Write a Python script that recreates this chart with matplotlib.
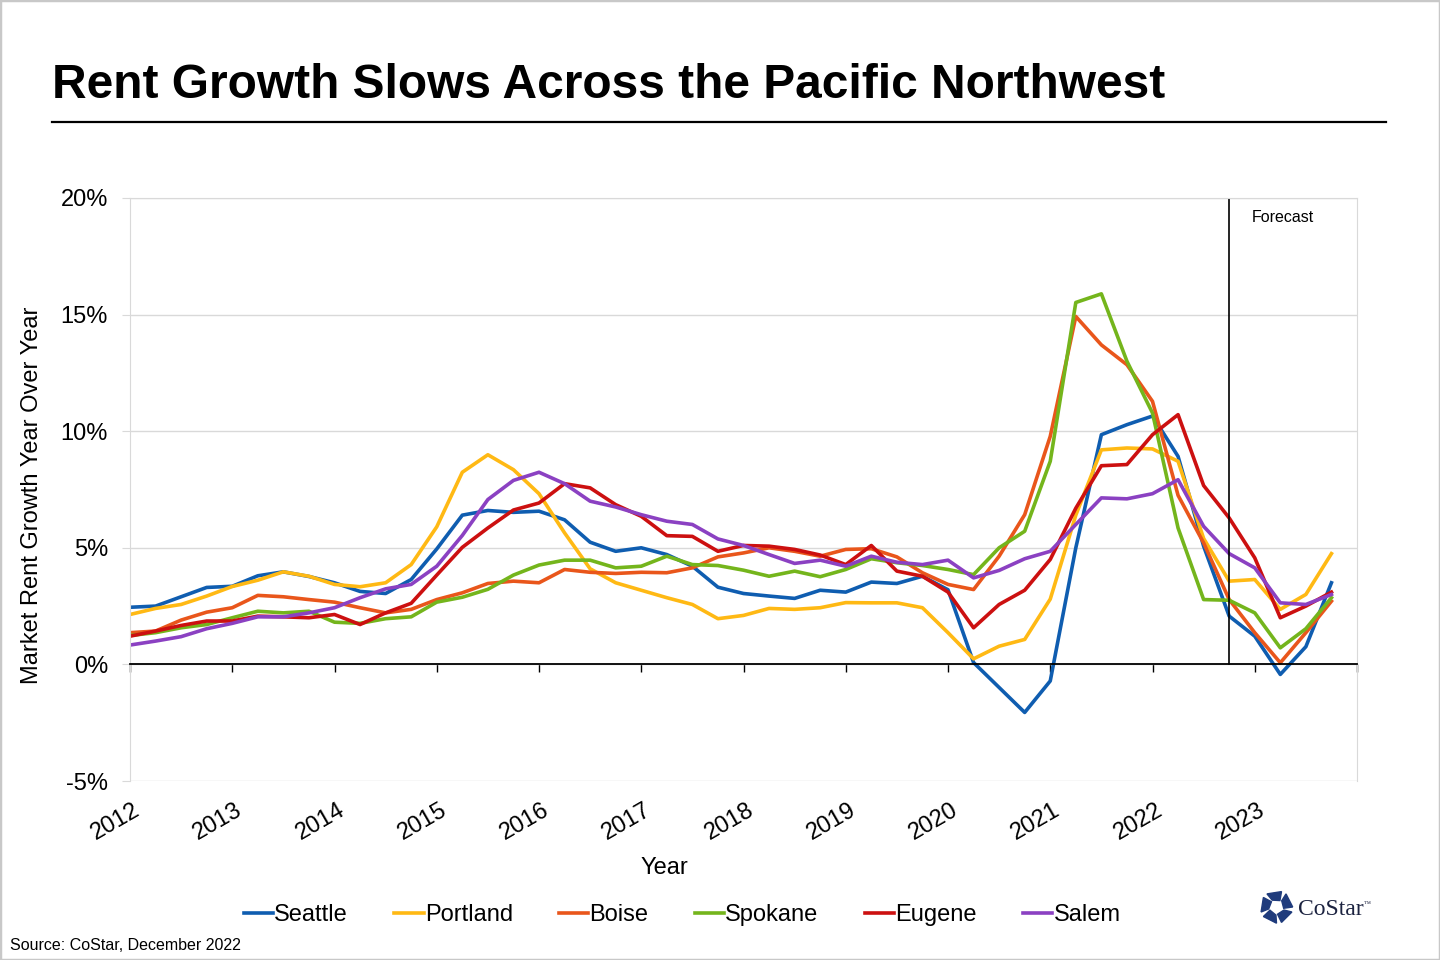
import numpy as np
import matplotlib
matplotlib.use('Agg')
import matplotlib.pyplot as plt
from matplotlib.lines import Line2D
from matplotlib.patches import Polygon, Rectangle
from matplotlib.transforms import blended_transform_factory, ScaledTranslation

plt.rcParams['font.family'] = ['Liberation Sans', 'DejaVu Sans']

# quarterly data, 2012 Q1 .. 2023 Q4 (percent, year over year)
years = list(range(2012, 2024))
quarters = [y + q / 4 for y in years for q in range(4)]
forecast_start = 2022.75

seattle = [2.45, 2.5, 2.9, 3.3, 3.35, 3.8, 3.97, 3.77, 3.5, 3.13, 3.04, 3.64,
           4.95, 6.4, 6.6, 6.52, 6.57, 6.2, 5.24, 4.85, 5.0, 4.71, 4.21, 3.31,
           3.04, 2.93, 2.83, 3.18, 3.1, 3.53, 3.47, 3.78, 3.2, 0.08, -0.99, -2.06,
           -0.71, 5.0, 9.85, 10.28, 10.65, 8.92, 5.07, 2.07, 1.21, -0.43, 0.76, 3.5]
portland = [2.14, 2.4, 2.57, 2.93, 3.34, 3.61, 3.97, 3.78, 3.43, 3.33, 3.5, 4.28,
            5.9, 8.24, 8.99, 8.35, 7.32, 5.64, 4.1, 3.5, 3.18, 2.86, 2.57, 1.96,
            2.1, 2.4, 2.36, 2.43, 2.65, 2.64, 2.64, 2.43, 1.36, 0.24, 0.78, 1.07,
            2.8, 6.4, 9.2, 9.28, 9.24, 8.71, 5.4, 3.57, 3.64, 2.36, 3.0, 4.75]
boise = [1.36, 1.43, 1.9, 2.24, 2.43, 2.96, 2.9, 2.78, 2.67, 2.43, 2.21, 2.36,
         2.78, 3.07, 3.47, 3.57, 3.5, 4.07, 3.95, 3.9, 3.95, 3.93, 4.14, 4.61,
         4.78, 5.0, 4.85, 4.64, 4.93, 4.96, 4.61, 3.93, 3.43, 3.21, 4.64, 6.42,
         9.78, 14.92, 13.7, 12.85, 11.28, 7.25, 5.21, 2.78, 1.36, 0.07, 1.36, 2.71]
spokane = [1.24, 1.36, 1.57, 1.71, 2.0, 2.28, 2.21, 2.28, 1.81, 1.76, 1.96, 2.04,
           2.67, 2.88, 3.22, 3.83, 4.26, 4.47, 4.47, 4.14, 4.21, 4.64, 4.28, 4.24,
           4.04, 3.78, 4.0, 3.76, 4.07, 4.53, 4.36, 4.24, 4.07, 3.85, 5.0, 5.71,
           8.71, 15.52, 15.89, 13.0, 10.78, 5.85, 2.78, 2.75, 2.21, 0.71, 1.53, 2.86]
eugene = [1.21, 1.43, 1.67, 1.86, 1.86, 2.07, 2.04, 2.0, 2.14, 1.71, 2.21, 2.62,
          3.83, 5.02, 5.85, 6.62, 6.92, 7.75, 7.57, 6.85, 6.35, 5.52, 5.49, 4.85,
          5.1, 5.07, 4.93, 4.69, 4.28, 5.1, 4.0, 3.78, 3.1, 1.57, 2.57, 3.18,
          4.5, 6.7, 8.52, 8.57, 9.85, 10.71, 7.67, 6.28, 4.57, 2.0, 2.5, 3.1]
salem = [0.83, 1.0, 1.19, 1.53, 1.76, 2.04, 2.04, 2.21, 2.43, 2.86, 3.24, 3.43,
         4.21, 5.53, 7.07, 7.89, 8.24, 7.75, 7.0, 6.75, 6.42, 6.14, 6.0, 5.38,
         5.1, 4.71, 4.33, 4.47, 4.21, 4.64, 4.38, 4.28, 4.47, 3.71, 4.03, 4.53,
         4.85, 6.0, 7.14, 7.1, 7.32, 7.92, 5.92, 4.75, 4.14, 2.64, 2.57, 3.0]

names = ['Seattle', 'Portland', 'Boise', 'Spokane', 'Eugene', 'Salem']
series = [seattle, portland, boise, spokane, eugene, salem]
colors = ['#0F5DB0', '#FFB914', '#E9561B', '#74B51C', '#CC1010', '#8B41C2']

W, H = 1440, 960
fig = plt.figure(figsize=(W / 100, H / 100), dpi=100)
ax = fig.add_axes([130 / W, 1 - 781 / H, (1357 - 130) / W, (781 - 198) / H])

for name, vals, col in zip(names, series, colors):
    ax.plot(quarters, vals, color=col, lw=2.6, label=name)

ax.set_xlim(2012, 2024)
ax.set_ylim(-5, 20)
yt = [-5, 0, 5, 10, 15, 20]
ax.set_yticks(yt)
ax.set_yticklabels([f'{v}%' for v in yt])
ax.grid(axis='y', color='#D9D9D9', lw=1)
ax.set_axisbelow(True)
for s in ['left', 'right', 'top']:
    ax.spines[s].set_color('#D9D9D9')
ax.spines['bottom'].set_position(('data', 0))
ax.spines['bottom'].set_color('black')
ax.spines['bottom'].set_linewidth(1.3)
ax.tick_params(axis='y', direction='out', length=5.8, color='#D9D9D9',
               labelsize=17, pad=10)
ax.set_xticks(years + [2024])
ax.tick_params(axis='x', direction='out', length=5.5, width=1, color='black',
               labelbottom=False)

# year labels at the bottom of the plot area
tr = blended_transform_factory(ax.transData, ax.transAxes) + \
    ScaledTranslation(3 / 100, -18 / 100, fig.dpi_scale_trans)
for y in years:
    ax.text(y, 0, str(y), transform=tr, rotation=30, rotation_mode='anchor',
            ha='right', va='top', fontsize=17)

# forecast marker
ax.axvline(forecast_start, ymin=0.2, ymax=1, color='black', lw=1.2)
ax.text(forecast_start + 0.22, 19.15, 'Forecast', fontsize=11.5, va='center')

# titles and labels
fig.text(52 / W, 1 - 98 / H, 'Rent Growth Slows Across the Pacific Northwest',
         fontsize=34.5, weight='bold', va='baseline')
fig.add_artist(Line2D([52 / W, 1386 / W], [1 - 122 / H] * 2, color='black', lw=1.6))
fig.text(32 / W, 1 - 495 / H, 'Market Rent Growth Year Over Year', rotation=90,
         ha='center', va='center', fontsize=17)
fig.text(664 / W, 1 - 868 / H, 'Year', ha='center', va='center', fontsize=17)

fig.legend(loc='center', bbox_to_anchor=(682 / W, 1 - 915 / H), ncol=6,
           frameon=False, fontsize=17, handlelength=1.25, handletextpad=0.05,
           columnspacing=1.95)

fig.text(10 / W, 1 - 946 / H, 'Source: CoStar, December 2022', fontsize=11.5,
         va='center')

# CoStar logo
lax = fig.add_axes([1259 / W, 1 - 924 / H, 35 / W, 34 / H])
lax.set_xlim(-1.05, 1.05)
lax.set_ylim(-1.05, 1.05)
lax.set_aspect('equal')
lax.axis('off')
for k in range(5):
    a = 100 - 72 * k
    pts = []
    for r, d in [(1.0, a - 28), (1.0, a + 26), (0.5, a + 22), (0.45, a - 38)]:
        t = np.deg2rad(d)
        pts.append((r * np.cos(t), r * np.sin(t)))
    lax.add_patch(Polygon(pts, closed=True, color='#1F3B7C'))
fig.text(1298 / W, 1 - 915 / H, 'CoStar', family=['Liberation Serif', 'DejaVu Serif'],
         fontsize=17, color='#1c2340', va='baseline')
fig.text(1364 / W, 1 - 906 / H, '\u2122', family=['Liberation Serif', 'DejaVu Serif'],
         fontsize=5, color='#1c2340', va='baseline')

fig.add_artist(Rectangle((0, 0), 1, 1, transform=fig.transFigure, fill=False,
                         edgecolor='#C8C8C8', lw=2.5))

fig.savefig('out.png', dpi=100)
